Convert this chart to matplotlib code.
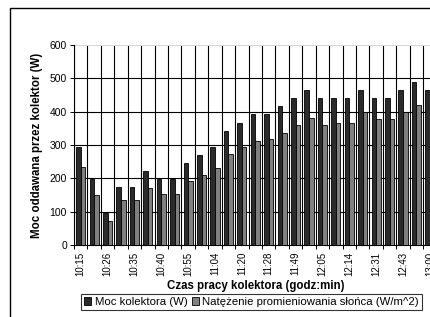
import matplotlib.pyplot as plt
import numpy as np
from matplotlib.patches import Rectangle

plt.rcParams['font.family'] = ['Liberation Sans', 'DejaVu Sans']

# czas pomiaru (co drugi opisany)
czasy = ['10:15', '', '10:26', '', '10:35', '', '10:40', '', '10:55', '',
         '11:04', '', '11:20', '', '11:28', '', '11:49', '', '12:05', '',
         '12:14', '', '12:31', '', '12:43', '', '13:00']
moc = [293, 198, 97, 173, 173, 222, 198, 198, 246, 269,
       293, 342, 366, 392, 392, 416, 440, 465, 440, 440,
       440, 465, 440, 440, 465, 490, 465]
natezenie = [234, 151, 72, 135, 135, 170, 154, 154, 192, 210,
             232, 272, 293, 312, 317, 337, 360, 382, 361, 367,
             366, 400, 379, 379, 400, 420, 400]

fig = plt.figure(figsize=(4.3, 3.17), dpi=100)
ax = fig.add_axes([74 / 430, 72 / 317, 0.8433, 200 / 317])

x = np.arange(len(moc))
w = 0.34
ax.bar(x - w / 2, moc, w, color='#2b2b2b', edgecolor='black', linewidth=0.6,
       label='Moc kolektora (W)', zorder=3)
ax.bar(x + w / 2, natezenie, w, color='#808080', edgecolor='black', linewidth=0.6,
       label='Natężenie promieniowania słońca (W/m^2)', zorder=3)

ax.set_xlim(-0.5, len(moc) - 0.5)
ax.set_ylim(0, 600)
ax.set_yticks(range(0, 601, 100))
ax.set_xticks(x)
ax.set_xticklabels(czasy, rotation=90, fontsize=7)
ax.set_xticks(np.arange(-0.5, len(moc), 1), minor=True)
ax.tick_params(axis='x', which='major', length=0, pad=5)
ax.tick_params(axis='x', which='minor', length=3, width=0.7, direction='out')
ax.tick_params(axis='y', labelsize=7.5, length=3, width=0.7, pad=2)

ax.grid(True, axis='y', color='black', linewidth=0.8, zorder=0)
ax.grid(True, axis='x', which='minor', color='black', linewidth=0.8, zorder=0)
ax.get_ygridlines()[-1].set_color('#d8d8d8')
for s in ['top', 'right']:
    ax.spines[s].set_visible(False)
ax.spines['left'].set_linewidth(0.8)
ax.spines['bottom'].set_linewidth(0.8)

ax.set_ylabel('Moc oddawana przez kolektor (W)', fontsize=8.3, fontweight='bold', labelpad=5)
ax.set_xlabel('Czas pracy kolektora (godz:min)', fontsize=8.3, fontweight='bold')
ax.xaxis.set_label_coords(0.5, (245 - 280) / 200)

leg = fig.legend(loc='center left', bbox_to_anchor=(81 / 430, 1 - 302 / 317), ncol=2,
                 fontsize=8.2, frameon=True, fancybox=False, edgecolor='black',
                 handlelength=0.6, handleheight=0.6, handletextpad=0.3,
                 columnspacing=0.4, borderpad=0.3, borderaxespad=0)
leg.get_frame().set_linewidth(0.8)

# ramka wykresu
fig.patches.append(Rectangle((10 / 430, -0.1), 1.2, 1 - 8 / 317 + 0.1, transform=fig.transFigure,
                             fill=False, edgecolor='black', linewidth=1.0))

fig.savefig('out.png', dpi=100)
